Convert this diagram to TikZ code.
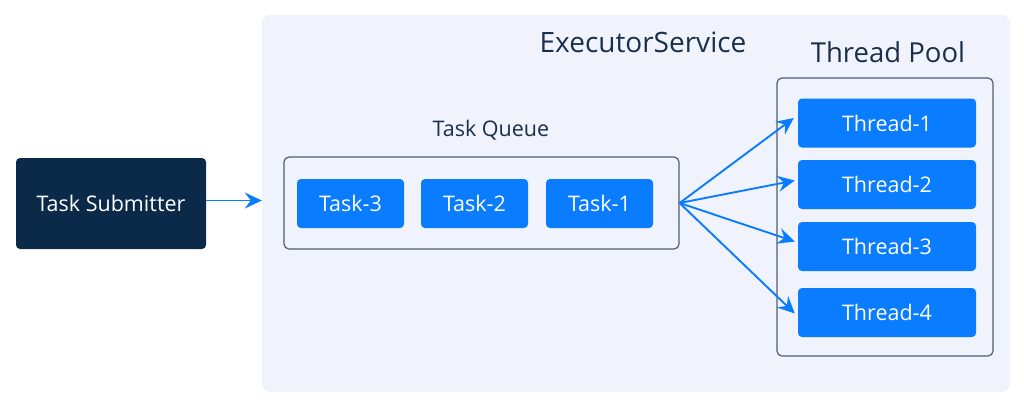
\documentclass[tikz,border=0pt]{standalone}
\usepackage{fontspec}
\setmainfont{Open Sans}
\usetikzlibrary{arrows.meta}
\definecolor{bgc}{HTML}{F0F3FC}
\definecolor{navy}{HTML}{0B2A4A}
\definecolor{txt}{HTML}{1B2F4A}
\definecolor{blu}{HTML}{0A7CFF}
\definecolor{brd}{HTML}{4E5E74}
\begin{document}
\begin{tikzpicture}[x=1pt,y=-1pt,
  bluebox/.style={rectangle,rounded corners=4pt,fill=blu,text=white,minimum width=107pt,minimum height=49pt,inner sep=0pt,font=\fontsize{21.5}{24}\selectfont},
  thbox/.style={bluebox,minimum width=178pt},
  frame/.style={rectangle,rounded corners=5pt,draw=brd,line width=1.2pt,inner sep=0pt},
  lbl/.style={text=txt,inner sep=0pt},
  arr/.style={draw=blu,line width=1.9pt,-{Stealth[length=17pt,width=16pt,inset=6pt]}}]
\useasboundingbox (0,0) rectangle (1024,408);
\fill[white] (0,0) rectangle (1024,408);
\node[rectangle,rounded corners=8pt,fill=bgc,minimum width=748pt,minimum height=377pt,inner sep=0pt] (bg) at (636,203.5) {};
\node[rectangle,rounded corners=4pt,fill=navy,text=white,minimum width=190pt,minimum height=91pt,inner sep=0pt,font=\fontsize{21.5}{24}\selectfont] (sub) at (111,203.5) {Task Submitter};
\node[lbl,font=\fontsize{28}{32}\selectfont] (es) at (643,42) {ExecutorService};
\node[lbl,font=\fontsize{27.5}{32}\selectfont] (tp) at (888,52) {Thread Pool};
\node[lbl,font=\fontsize{21.5}{24}\selectfont] (tq) at (491,130) {Task Queue};
\node[frame,minimum width=395pt,minimum height=92pt] (q) at (481.5,203) {};
\node[bluebox] (t3) at (350.5,203.5) {Task-3};
\node[bluebox] (t2) at (474.5,203.5) {Task-2};
\node[bluebox] (t1) at (599.5,203.5) {Task-1};
\node[frame,minimum width=216pt,minimum height=278pt] (pool) at (885,217) {};
\node[thbox] (h1) at (887,123) {Thread-1};
\node[thbox] (h2) at (887,184.5) {Thread-2};
\node[thbox] (h3) at (887,246.5) {Thread-3};
\node[thbox] (h4) at (887,312.5) {Thread-4};
\coordinate (s0) at ([yshift=3pt]sub.east);
\draw[arr] (s0) -- (s0 -| bg.west);
\draw[arr] (q.east) -- ([xshift=-4pt,yshift=5pt]h1.west);
\draw[arr] (q.east) -- ([xshift=-3pt,yshift=4pt]h2.west);
\draw[arr] (q.east) -- ([xshift=-3pt,yshift=5pt]h3.west);
\draw[arr] (q.east) -- ([xshift=-3pt,yshift=-1pt]h4.west);
\end{tikzpicture}
\end{document}
